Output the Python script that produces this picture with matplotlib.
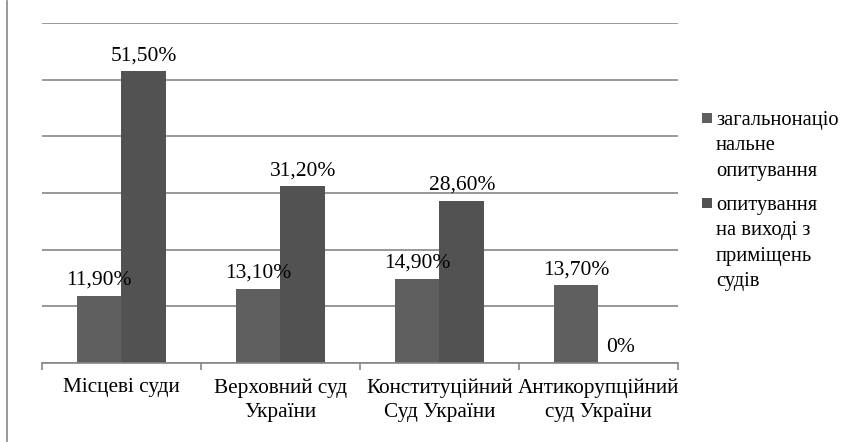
import matplotlib
matplotlib.use("Agg")
import matplotlib.pyplot as plt
import numpy as np
from matplotlib.lines import Line2D
from matplotlib.patches import Rectangle

categories = ["Місцеві суди", "Верховний суд\nУкраїни", "Конституційний\nСуд України", "Антикорупційний\nсуд України"]
series_names = [["загальнонаціо", "нальне", "опитування"], ["опитування", "на виході з", "приміщень", "судів"]]
general = [11.9, 13.1, 14.9, 13.7]
exit_poll = [51.5, 31.2, 28.6, 0.0]
general_labels = ["11,90%", "13,10%", "14,90%", "13,70%"]
exit_labels = ["51,50%", "31,20%", "28,60%", "0%"]
colors = ["#5f5f5f", "#525252"]

plt.rcParams['font.family'] = ['Liberation Serif', 'DejaVu Serif']

W, H = 851, 442
fig = plt.figure(figsize=(W/100, H/100), dpi=100)
ax = fig.add_axes([42/W, 79/H, (678-42)/W, (363-23)/H])

x = np.arange(len(categories))
w = 0.283
b1 = ax.bar(x - w/2, general, w, color=colors[0], zorder=3)
b2 = ax.bar(x + w/2, exit_poll, w, color=colors[1], zorder=3)

fs_lab = 15.5
for xi, v, lab in zip(x - w/2, general, general_labels):
    ax.annotate(lab, (xi, v), xytext=(0, 8), textcoords="offset points",
                ha="center", va="baseline", fontsize=fs_lab, color="black", zorder=4)
for xi, v, lab in zip(x + w/2, exit_poll, exit_labels):
    ax.annotate(lab, (xi, v), xytext=(0, 8), textcoords="offset points",
                ha="center", va="baseline", fontsize=fs_lab, color="black", zorder=4)

ax.set_xlim(-0.5, len(categories) - 0.5)
ax.set_ylim(0, 60)
ax.set_yticks(np.arange(0, 61, 10))
ax.yaxis.grid(True, color="#868686", linewidth=1.2, zorder=0)
ax.tick_params(axis="y", left=False, labelleft=False)
for s in ["top", "right", "left"]:
    ax.spines[s].set_visible(False)
ax.spines["bottom"].set_color("#868686")
ax.spines["bottom"].set_linewidth(1.2)
ax.spines["bottom"].set_zorder(5)

ax.set_xticks(np.arange(-0.5, len(categories)), minor=False)
ax.set_xticklabels([])
ax.tick_params(axis="x", which="major", direction="out", length=5, color="#868686", width=1.2)
ax.set_xticks(x, minor=True)
ax.set_xticklabels(categories, minor=True, fontsize=15.3, linespacing=1.35)
ax.tick_params(axis="x", which="minor", length=0, pad=11)

fig.add_artist(Line2D([7/W, 7/W], [1/H, 441/H], color="#868686", linewidth=1.2))

# legend drawn manually (square aligned with first text line)
fs_leg = 14.8
entry_baselines = [125, 210]
line_step = 25.3
for name, base, col in zip(series_names, entry_baselines, colors):
    fig.add_artist(Rectangle((702/W, 1 - (base - 2)/H), 10/W, 10/H,
                             transform=fig.transFigure, facecolor=col, edgecolor="none"))
    for i, line in enumerate(name):
        fig.text(716/W, 1 - (base + i*line_step)/H, line, fontsize=fs_leg,
                 ha="left", va="baseline", color="black")

fig.savefig("out.png", dpi=100)
